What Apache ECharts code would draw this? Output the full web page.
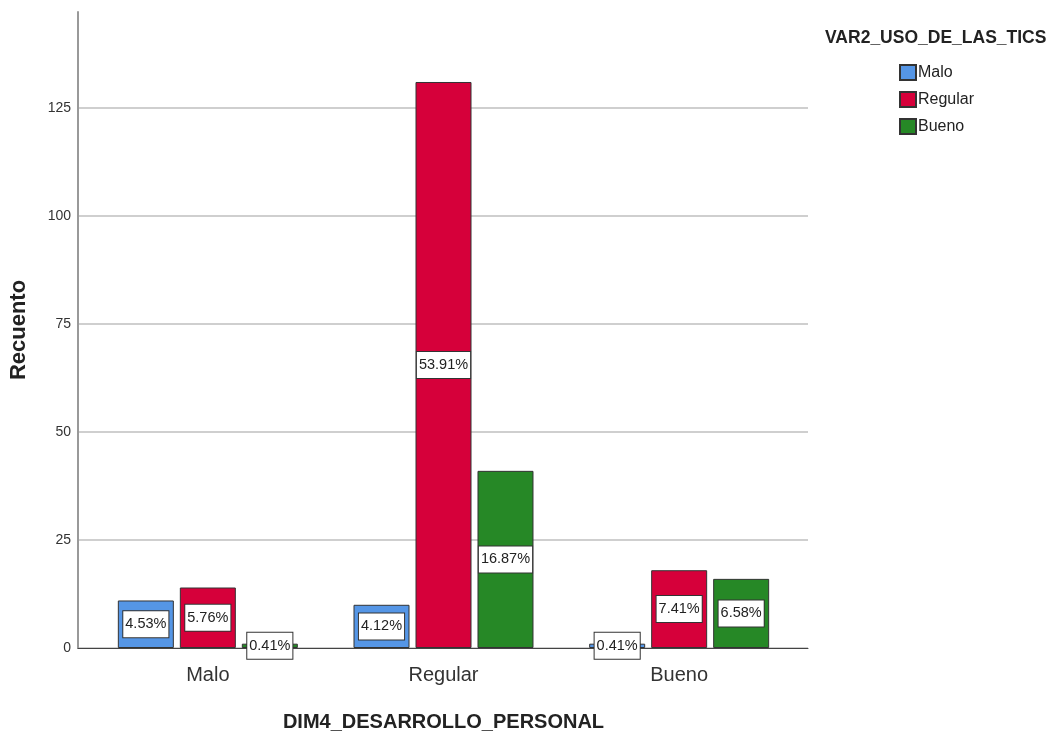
<!DOCTYPE html>
<html>
<head>
<meta charset="utf-8">
<script src="https://cdn.jsdelivr.net/npm/echarts@6/dist/echarts.min.js"></script>
<style>html,body{margin:0;padding:0;background:#fff}#c{width:1053px;height:737px}</style>
</head>
<body>
<div id="c"></div>
<script>
const categories = ['Malo', 'Regular', 'Bueno'];
const seriesNames = ['Malo', 'Regular', 'Bueno'];
const countsMalo = [11, 10, 1];
const countsRegular = [14, 131, 18];
const countsBueno = [1, 41, 16];
const percentMalo = ['4.53%', '4.12%', '0.41%'];
const percentRegular = ['5.76%', '53.91%', '7.41%'];
const percentBueno = ['0.41%', '16.87%', '6.58%'];
const colors = ['#5596e6', '#d6003a', '#268826'];

const FONT = '"Liberation Sans", Arial, sans-serif';
const Y_MAX = 147.2;
const TOP = 12, BOTTOM = 737 - 648;

const seriesData = [countsMalo, countsRegular, countsBueno];
const seriesLabels = [percentMalo, percentRegular, percentBueno];

const chart = echarts.init(document.getElementById('c'), null, {renderer: 'canvas'});
chart.setOption({
  animation: false,
  backgroundColor: '#fff',
  title: {
    text: 'VAR2_USO_DE_LAS_TICS',
    left: 825, top: 29, padding: 0,
    textStyle: {fontFamily: FONT, fontSize: 17.5, fontWeight: 'bold', color: '#222'}
  },
  legend: {
    orient: 'vertical',
    left: 899, top: 64, padding: 0,
    itemWidth: 16, itemHeight: 15, itemGap: 10,
    icon: 'rect',
    data: seriesNames,
    textStyle: {fontFamily: FONT, fontSize: 16, color: '#222', padding: [0,0,0,-3]}
  },
  grid: [
    {left: 90, width: 707, top: TOP, bottom: BOTTOM, containLabel: false, outerBoundsMode: 'none'},
    {left: 78, width: 730, top: TOP, bottom: BOTTOM, containLabel: false, outerBoundsMode: 'none'}
  ],
  xAxis: [
    {
      gridIndex: 0, type: 'category', data: categories,
      axisLine: {show: false}, axisTick: {show: false},
      axisLabel: {fontFamily: FONT, fontSize: 20, color: '#333', margin: 17},
      name: 'DIM4_DESARROLLO_PERSONAL', nameLocation: 'middle', nameGap: 64,
      nameTextStyle: {fontFamily: FONT, fontSize: 20, fontWeight: 'bold', color: '#222'}
    },
    {
      gridIndex: 1, type: 'category', data: categories,
      axisLine: {show: true, lineStyle: {color: '#444', width: 1}},
      axisTick: {show: false}, axisLabel: {show: false}
    }
  ],
  yAxis: [
    {gridIndex: 0, type: 'value', min: 0, max: Y_MAX, interval: 25, show: false},
    {
      gridIndex: 1, type: 'value', min: 0, max: Y_MAX, interval: 25,
      axisLine: {show: true, lineStyle: {color: '#999', width: 2}},
      axisTick: {show: false},
      axisLabel: {fontFamily: FONT, fontSize: 14, color: '#333', margin: 7, showMaxLabel: false},
      splitLine: {show: true, showMaxLine: false, lineStyle: {color: '#cfcfcf', width: 2}},
      name: 'Recuento', nameLocation: 'middle', nameGap: 48, nameRotate: 90,
      nameTextStyle: {fontFamily: FONT, fontSize: 22, fontWeight: 'bold', color: '#222'}
    }
  ],
  series: seriesNames.map((n, i) => ({
    name: n, type: 'bar', xAxisIndex: 0, yAxisIndex: 0,
    data: seriesData[i],
    barWidth: 56, barGap: '10.7%',
    itemStyle: {color: colors[i], borderColor: '#333', borderWidth: 1},
    label: {
      show: true, position: 'inside',
      formatter: p => seriesLabels[i][p.dataIndex],
      fontFamily: FONT, fontSize: 14.5, color: '#222',
      backgroundColor: '#fff', borderColor: '#333', borderWidth: 1,
      padding: [6, 2, 5, 2]
    }
  }))
});
</script>
</body>
</html>
